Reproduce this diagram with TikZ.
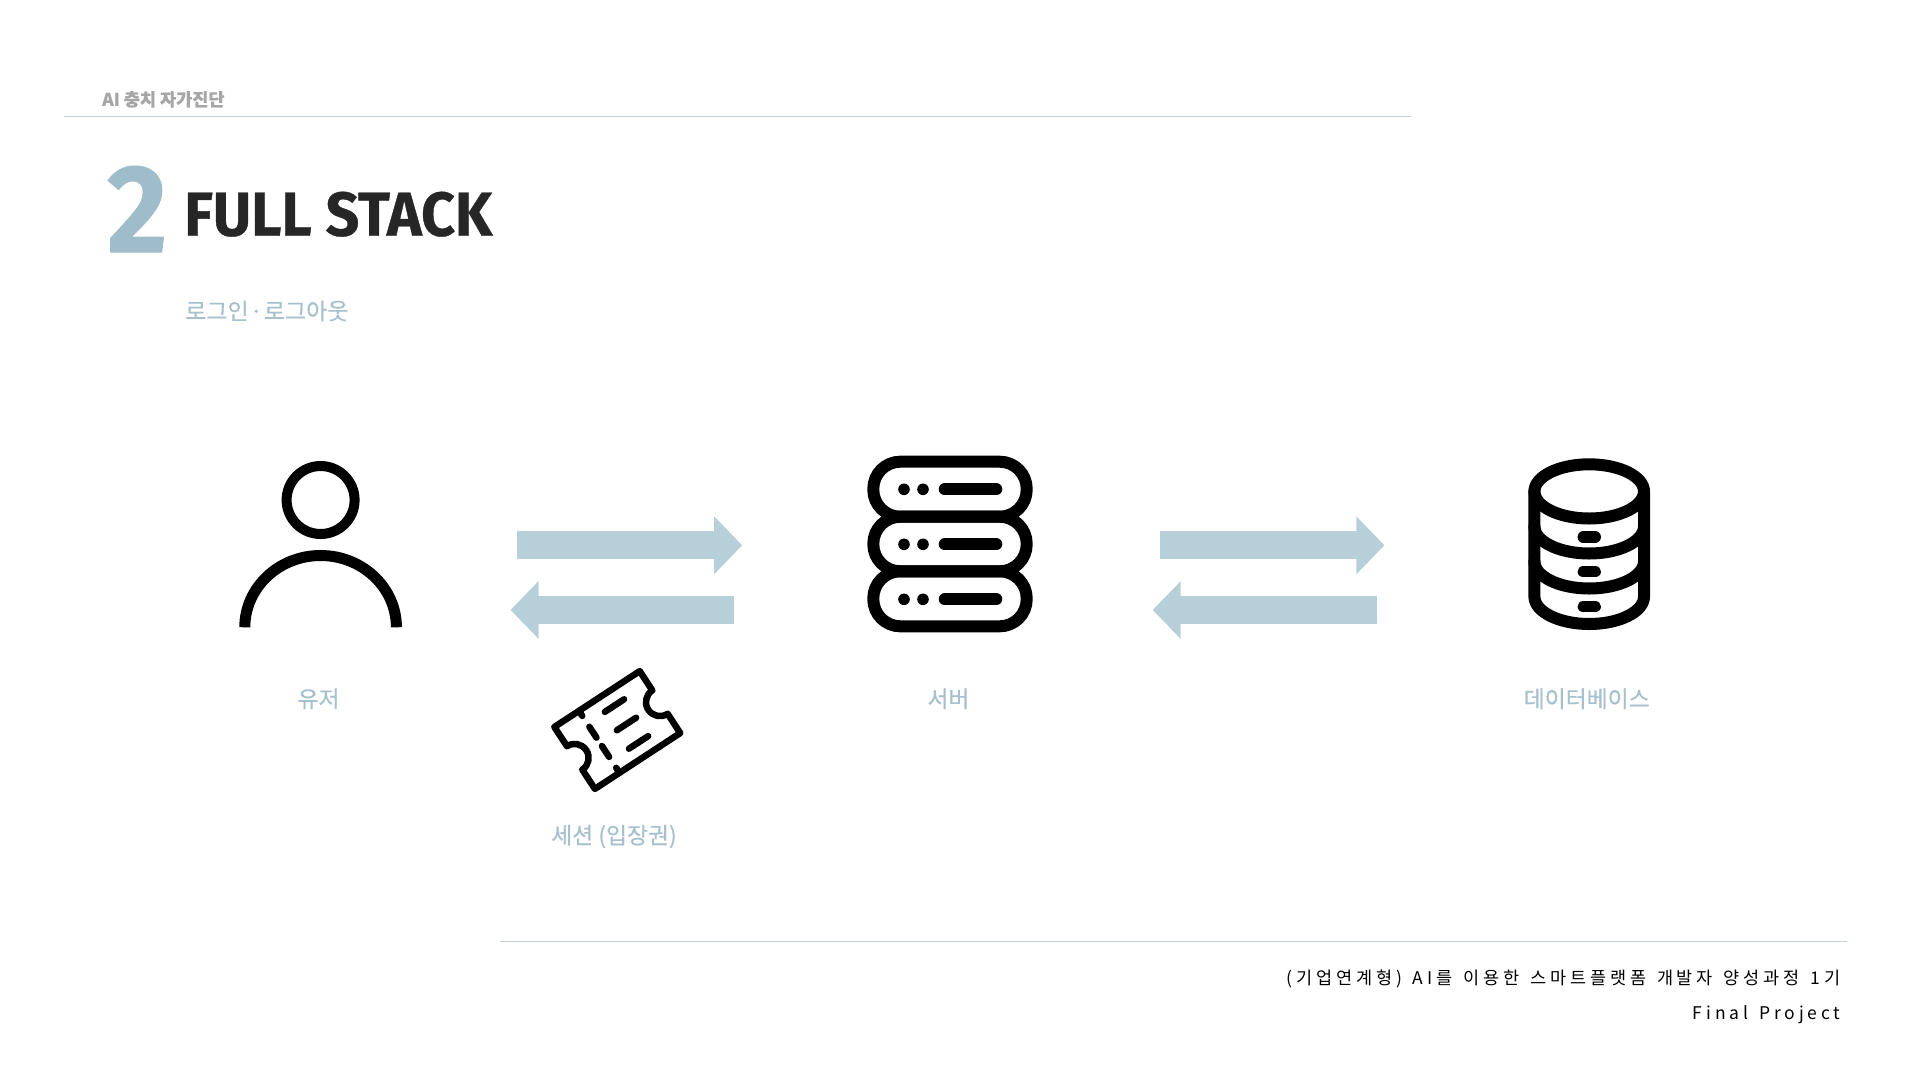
\documentclass[tikz,border=0pt]{standalone}
\usepackage{fontspec}
\usetikzlibrary{arrows.meta}
\newfontfamily\krfont[BoldFeatures={FakeBold=.4}]{Noto Sans CJK KR}
\newfontfamily\labelfont[FakeBold=.4]{Noto Sans CJK KR}
\newfontfamily\footfont[LetterSpace=22,WordSpace=1.4]{Noto Sans CJK KR}
\newfontfamily\titlefont[FakeStretch=.95,BoldFeatures={FakeBold=.6}]{Fira Sans}
\newfontfamily\numfont[FakeStretch=.93,BoldFeatures={FakeBold=.6}]{Fira Sans}
\definecolor{headgray}{HTML}{A6A6A6}
\definecolor{rulegray}{HTML}{C4D2D8}
\definecolor{numblue}{HTML}{9FBCCB}
\definecolor{labelblue}{HTML}{A6C0CD}
\definecolor{flowblue}{HTML}{B7CFD8}
\definecolor{titleblack}{HTML}{262626}
\tikzset{
  rulestyle/.style={draw=rulegray,line width=1.2pt},
  iconbox/.style={inner sep=0pt,minimum height=180pt},
  label/.style={inner sep=0pt,text=labelblue,font=\labelfont\fontsize{22.8}{26}\selectfont},
  iconline/.style={line width=#1,line join=round,line cap=round},
  flow/.style={draw=flowblue,line width=28.3pt,-{Triangle[length=28pt,width=56pt,fill=flowblue]}}
}
\begin{document}
\begin{tikzpicture}[x=1pt,y=1pt]
  \useasboundingbox[fill=white] (0,0) rectangle (1920,-1080);
  \node[inner sep=0pt,anchor=west,text=headgray,font=\krfont\bfseries\fontsize{17.5}{22}\selectfont] (header) at (102,-99.3) {AI 충치 자가진단};
  \draw[rulestyle] (64,-116.3) -- (1410.6,-116.3);
  \node[inner sep=0pt,anchor=west,text=numblue,font=\numfont\bfseries\fontsize{125}{130}\selectfont] (number) at (107,-209) {2};
  \node[inner sep=0pt,anchor=west,text=titleblack,font=\titlefont\bfseries\fontsize{62}{70}\selectfont] (title) at (184,-214.2) {FULL STACK};
  \node[inner sep=0pt,anchor=west,text=labelblue,font=\labelfont\fontsize{23}{28}\selectfont] (subtitle) at (185,-311) {로그인\kern-4pt{} · \kern-4pt{}로그아웃};

  \node[iconbox,minimum width=162pt] (user) at (320.6,-577.65) {};
  \node[iconbox,minimum width=165.4pt] (server) at (950,-577.65) {};
  \node[iconbox,minimum width=121.7pt] (database) at (1589.2,-577.65) {};

  \draw[iconline=10pt] (320.6,-500) circle (34);
  \draw[line width=11pt] (244.8,-627.3) arc[start angle=180,end angle=0,x radius=75.8,y radius=71.8];

  \draw[flow,shorten <=115.6pt,shorten >=124.9pt] ([yshift=32.35pt]user.east) -- ([yshift=32.35pt]server.west);
  \draw[flow,shorten <=132.8pt,shorten >=108.7pt] ([yshift=-32.35pt]server.west) -- ([yshift=-32.35pt]user.east);
  \draw[flow,shorten <=126.7pt,shorten >=143.7pt] ([yshift=32.35pt]server.east) -- ([yshift=32.35pt]database.west);
  \draw[flow,shorten <=150.8pt,shorten >=119.8pt] ([yshift=-32.35pt]database.west) -- ([yshift=-32.35pt]server.east);

  \draw[iconline=12pt,rounded corners=27pt] (873.3,-461.7) rectangle (1026.7,-516.7);
  \draw[iconline=12pt,rounded corners=27pt] (873.3,-516.7) rectangle (1026.7,-571.3);
  \draw[iconline=12pt,rounded corners=27pt] (873.3,-571.3) rectangle (1026.7,-626.3);
  \fill (904,-489.3) circle (5.8);
  \fill (923,-489.3) circle (5.8);
  \draw[iconline=12pt] (944.7,-489.3) -- (996.3,-489.3);
  \fill (904,-544.3) circle (5.8);
  \fill (923,-544.3) circle (5.8);
  \draw[iconline=12pt] (944.7,-544.3) -- (996.3,-544.3);
  \fill (904,-599.3) circle (5.8);
  \fill (923,-599.3) circle (5.8);
  \draw[iconline=12pt] (944.7,-599.3) -- (996.3,-599.3);

  \draw[iconline=12pt] (1589.2,-491.4) ellipse [x radius=54.8,y radius=27.1];
  \draw[iconline=12pt] (1534.4,-491.4) -- (1534.4,-596.6) arc[start angle=180,end angle=360,x radius=54.8,y radius=27.4] -- (1644,-491.4);
  \draw[iconline=12pt] (1534.4,-526.4) arc[start angle=180,end angle=360,x radius=54.8,y radius=27.1];
  \draw[iconline=12pt] (1534.4,-561.4) arc[start angle=180,end angle=360,x radius=54.8,y radius=27.1];
  \draw[iconline=11.5pt] (1583.3,-537) -- (1595.2,-537);
  \draw[iconline=11.5pt] (1583.3,-571.7) -- (1595.2,-571.7);
  \draw[iconline=11.5pt] (1583.3,-606.7) -- (1595.2,-606.7);

  \begin{scope}[shift={(617.3,-730)},rotate=33.2]
    \draw[iconline=6.5pt] (-51,37) -- (51,37) -- (51,14) arc[start angle=90,end angle=270,radius=14] -- (51,-37) -- (-51,-37) -- (-51,-14) arc[start angle=-90,end angle=90,radius=14] -- cycle;
    \draw[iconline=6.5pt] (-21.6,37) -- (-21.6,31);
    \draw[iconline=6.5pt] (-21.6,18) -- (-21.6,5);
    \draw[iconline=6.5pt] (-21.6,-5) -- (-21.6,-18);
    \draw[iconline=6.5pt] (-21.6,-31) -- (-21.6,-37);
    \draw[iconline=6.5pt] (-.5,22) -- (22.5,22);
    \draw[iconline=6.5pt] (-.5,0) -- (22.5,0);
    \draw[iconline=6.5pt] (-.5,-22) -- (22.5,-22);
  \end{scope}

  \node[label] (userlabel) at (318.6,-698.8) {유저};
  \node[label] (serverlabel) at (948.5,-698.8) {서버};
  \node[label] (databaselabel) at (1586.7,-698.8) {데이터베이스};
  \node[label] (ticketlabel) at (614,-836.5) {세션 (입장권)};

  \draw[rulestyle] (499.6,-941.5) -- (1847,-941.5);
  \node[inner sep=0pt,anchor=east,font=\footfont\fontsize{17.5}{20}\selectfont] (course) at (1840.6,-979) {(기업연계형) AI를 이용한 스마트플랫폼 개발자 양성과정 1기};
  \node[inner sep=0pt,anchor=east,font=\footfont\fontsize{17.5}{20}\selectfont] (project) at (1840.6,-1014.2) {Final Project};
\end{tikzpicture}
\end{document}
